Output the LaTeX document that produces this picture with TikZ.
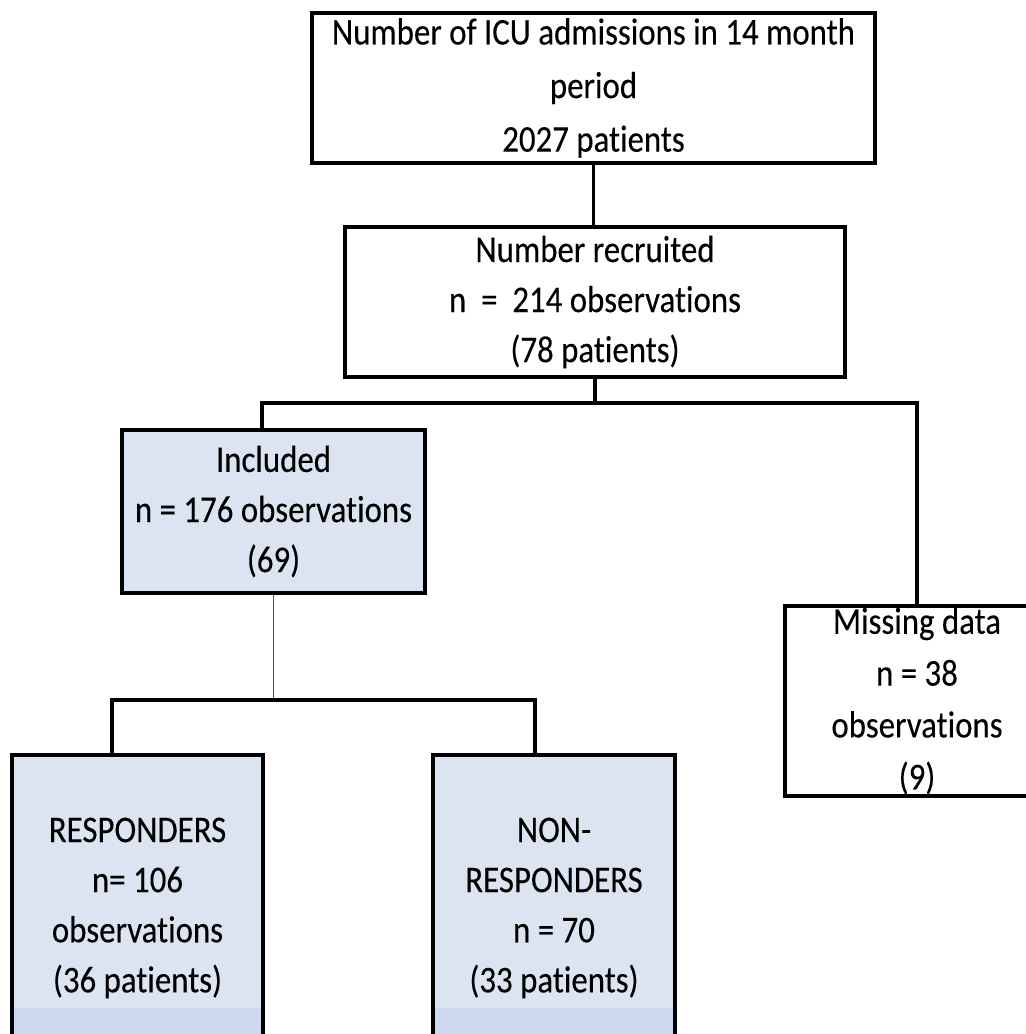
\documentclass[tikz,border=0pt]{standalone}
\usepackage{fontspec}
\setmainfont{Carlito}[FakeStretch=0.87, FakeBold=0.2, Ligatures=NoCommon]
\definecolor{boxfill}{HTML}{DCE4F2}
\definecolor{boxdeep}{HTML}{CAD7EE}
\begin{document}
\begin{tikzpicture}[x=0.02cm, y=-0.02cm,
        box/.style={draw, line width=2.6pt, inner sep=0pt, align=center,
            font=\fontsize{21.5}{28.5}\selectfont},
        bluebox/.style={box, fill=boxfill},
        shadedbox/.style={bluebox, path picture={
            \shade[top color=boxfill, bottom color=boxdeep]
            ([yshift=-0.1cm]path picture bounding box.south west) rectangle
            ([yshift=1.05cm]path picture bounding box.south east);}},
        link/.style={line width=2pt},
        thinlink/.style={line width=0.8pt, black!70}]
        \useasboundingbox (0,0) rectangle (1026,1034);
        % boxes
        \node [box, minimum width=11.26cm, minimum height=3cm,
            font=\fontsize{21.5}{30.5}\selectfont] (admissions) at (593.5,88)
            {Number of ICU admissions in 14 month\\period\\2027 patients};
        \node [box, minimum width=10cm, minimum height=3cm] (recruited) at (595,302)
            {Number recruited\\n\ \ =\ \ 214 observations\\(78 patients)};
        \node [bluebox, minimum width=6.06cm, minimum height=3.26cm] (included) at (273.5,511.5)
            {Included\\n = 176 observations\\(69)};
        \node [box, minimum width=5.28cm, minimum height=3.8cm,
            font=\fontsize{21.5}{29.5}\selectfont] (missing) at (917,701)
            {Missing data\\n = 38\\observations\\(9)};
        \node [shadedbox, minimum width=5.02cm, minimum height=6.12cm] (responders) at (137.5,908)
            {RESPONDERS\\n= 106\\observations\\(36 patients)};
        \node [shadedbox, minimum width=4.84cm, minimum height=6.12cm] (nonresp) at (554,908)
            {NON-\\RESPONDERS\\n = 70\\(33 patients)};
        % connectors
        \coordinate (splitA) at (262,403);
        \coordinate (splitB) at (917,403);
        \coordinate (splitC) at (112,700);
        \coordinate (splitD) at (535,700);
        \draw [link](admissions.south)--(admissions.south |- recruited.north);
        \draw [link](recruited.south)--(recruited.south |- splitA);
        \draw [link](splitA |- included.north)--(splitA)--(splitB)--(splitB |- missing.north);
        \draw [thinlink](included.south)--(included.south |- splitC);
        \draw [link](splitC |- responders.north)--(splitC)--(splitD)--(splitD |- nonresp.north);
    \end{tikzpicture}
\end{document}
